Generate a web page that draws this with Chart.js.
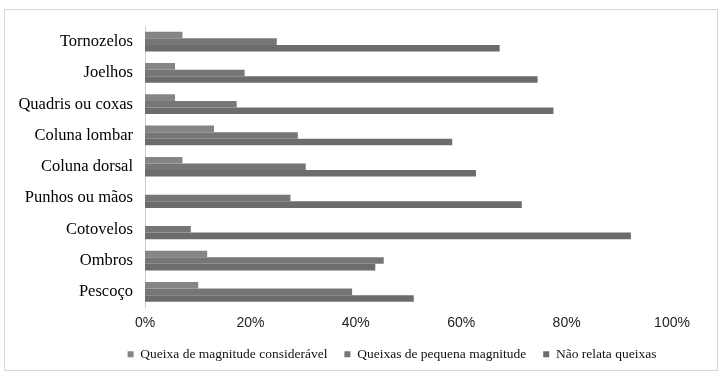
<!DOCTYPE html>
<html>
<head>
<meta charset="utf-8">
<script src="https://cdn.jsdelivr.net/npm/chart.js@4/dist/chart.umd.min.js"></script>
<style>
  html, body { margin: 0; padding: 0; background: #fff; }
  #wrap { width: 721px; height: 376px; }
</style>
</head>
<body>
<div id="wrap"><canvas id="myChart" width="721" height="376"></canvas></div>
<script>
const categories = ['Tornozelos', 'Joelhos', 'Quadris ou coxas', 'Coluna lombar', 'Coluna dorsal',
  'Punhos ou mãos', 'Cotovelos', 'Ombros', 'Pescoço'];
const seriesNames = ['Queixa de magnitude considerável', 'Queixas de pequena magnitude', 'Não relata queixas'];
const considerable = [7.1, 5.7, 5.7, 13.1, 7.1, 0, 0, 11.8, 10.1];
const small = [25.0, 18.9, 17.4, 29.0, 30.5, 27.6, 8.7, 45.3, 39.3];
const none = [67.3, 74.5, 77.5, 58.3, 62.8, 71.5, 92.2, 43.7, 51.0];
const tickValues = [0, 20, 40, 60, 80, 100];
const colors = ['#858585', '#767676', '#6c6c6c'];

// thin grey frame around the whole figure, legend nudged right
const frame = {
  id: 'frame',
  afterLayout(chart) {
    chart.legend.left += 56;
    chart.legend.right += 56;
  },
  afterDraw(chart) {
    const c = chart.ctx;
    c.save();
    c.strokeStyle = '#d6d6d6';
    c.lineWidth = 1;
    c.strokeRect(4.5, 9.5, 713, 361);
    c.restore();
  }
};

const ctx = document.getElementById('myChart');

new Chart(ctx, {
  type: 'bar',
  data: {
    labels: categories,
    datasets: [considerable, small, none].map((d, i) => ({
      label: seriesNames[i],
      data: d,
      backgroundColor: colors[i],
      borderWidth: 0,
      categoryPercentage: 0.63,
      barPercentage: 1
    }))
  },
  options: {
    indexAxis: 'y',
    responsive: false,
    animation: false,
    layout: { padding: { top: 26, right: 49, left: 0, bottom: 5 } },
    scales: {
      x: {
        min: 0,
        max: 100,
        afterBuildTicks(scale) {
          scale.ticks = tickValues.map(v => ({ value: v }));
        },
        afterFit(scale) { scale.height = 23; },
        grid: { display: false, drawTicks: false },
        border: { display: false },
        ticks: {
          padding: 7,
          color: '#222',
          font: { family: 'Liberation Sans', size: 14 },
          callback: v => v + '%'
        }
      },
      y: {
        afterFit(scale) { scale.width = 145; },
        grid: { display: false, drawTicks: false },
        border: { display: true, color: '#d0d0d0' },
        ticks: {
          padding: 12,
          color: '#000',
          font: { family: 'Liberation Serif', size: 16.5 }
        }
      }
    },
    plugins: {
      tooltip: { enabled: false },
      legend: {
        position: 'bottom',
        labels: {
          boxWidth: 6,
          boxHeight: 6,
          padding: 17,
          color: '#111',
          font: { family: 'Liberation Serif', size: 13.5 }
        }
      }
    }
  },
  plugins: [frame]
});
</script>
</body>
</html>
